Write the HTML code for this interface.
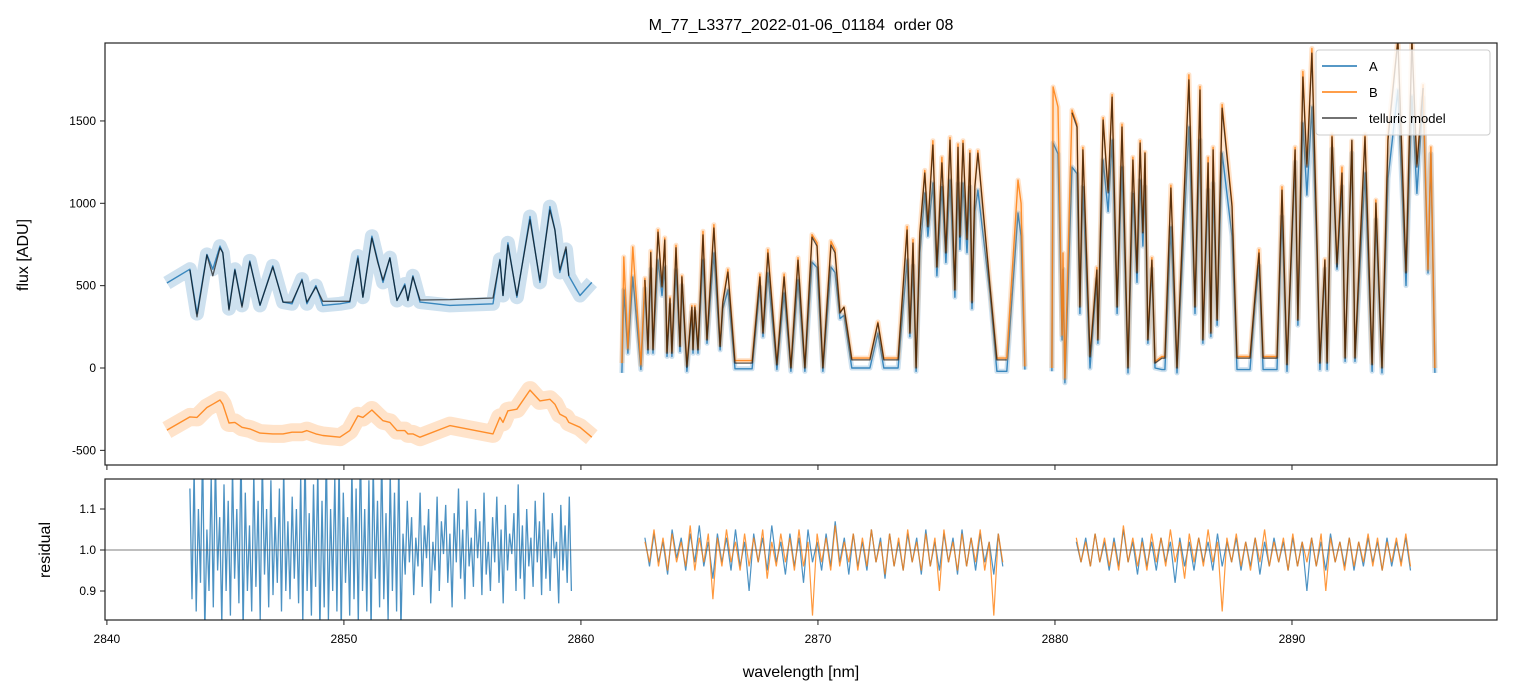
<!DOCTYPE html>
<html><head><meta charset="utf-8"><style>
body{margin:0;background:#fff;}
svg{display:block;font-family:"Liberation Sans","DejaVu Sans",sans-serif;}
</style></head><body>
<svg id="chart" width="1513" height="696" viewBox="0 0 1513 696">
<defs>
<clipPath id="cTop"><rect x="105" y="43" width="1392" height="422"/></clipPath>
<clipPath id="cBot"><rect x="105" y="479" width="1392" height="141"/></clipPath>
</defs>
<text x="801" y="30" text-anchor="middle" font-size="16" style="white-space:pre">M_77_L3377_2022-01-06_01184  order 08</text>
<g id="gtop" clip-path="url(#cTop)"></g>
<g id="gbot" clip-path="url(#cBot)"></g>
<g id="gaxes"></g>
<text transform="translate(28,255) rotate(-90)" text-anchor="middle" font-size="16">flux [ADU]</text>
<text transform="translate(50,550) rotate(-90)" text-anchor="middle" font-size="16">residual</text>
<text x="801" y="677" text-anchor="middle" font-size="16">wavelength [nm]</text>
<g>
<rect x="1316" y="50" width="174" height="85" rx="3" fill="#fff" fill-opacity="0.8" stroke="#ccc"/>
<line x1="1322" y1="66" x2="1357" y2="66" stroke="#1f77b4" stroke-width="1.5"/>
<text x="1369" y="71" font-size="13">A</text>
<line x1="1322" y1="92" x2="1357" y2="92" stroke="#ff7f0e" stroke-width="1.5"/>
<text x="1369" y="97" font-size="13">B</text>
<line x1="1322" y1="118" x2="1357" y2="118" stroke="#444" stroke-width="1.5"/>
<text x="1369" y="123" font-size="13">telluric model</text>
</g>
</svg>
<script>
// segment 1
const s1Wl=[2842.53,2843.50,2843.80,2844.22,2844.47,2844.77,2844.89,2845.15,2845.40,2845.70,2846.03,2846.46,2847.00,2847.43,2847.81,2848.23,2848.44,2848.82,2849.11,2849.83,2850.25,2850.59,2850.80,2851.18,2851.43,2851.65,2851.94,2852.24,2852.57,2852.70,2852.91,2853.21,2854.47,2856.29,2856.58,2856.71,2856.92,2857.30,2857.85,2858.27,2858.69,2858.90,2859.11,2859.37,2859.49,2859.96,2860.46];
const s1Model=[null,595,310,686,560,729,700,352,595,370,644,382,613,400,400,534,400,492,405,405,405,668,430,789,640,534,668,410,500,410,553,413,415,425,656,440,747,440,899,534,959,838,595,735,560,null,null];
const s1A=[516,600,330,690,600,740,700,360,600,380,650,380,620,400,390,540,390,500,380,390,400,680,430,800,650,520,670,410,510,410,560,400,380,390,660,440,760,430,920,520,980,840,580,720,560,440,520];
const s1B=[-377,-297,-300,-240,-220,-194,-220,-334,-330,-360,-370,-395,-400,-400,-390,-390,-380,-400,-410,-420,-380,-290,-300,-255,-290,-320,-330,-380,-380,-400,-400,-420,-350,-400,-300,-330,-260,-250,-134,-200,-190,-220,-280,-300,-330,-360,-420];
// segment 2
const s2Wl=[2861.73,2861.81,2861.98,2862.19,2862.53,2862.70,2862.83,2862.95,2863.04,2863.25,2863.42,2863.54,2863.63,2863.76,2863.84,2864.01,2864.18,2864.26,2864.47,2864.68,2864.73,2864.81,2864.94,2865.15,2865.32,2865.61,2865.87,2865.99,2866.20,2866.50,2867.22,2867.55,2867.68,2867.89,2868.27,2868.57,2868.86,2869.16,2869.45,2869.75,2869.96,2870.21,2870.55,2870.72,2870.93,2871.10,2871.43,2872.19,2872.53,2872.78,2873.38,2873.76,2873.88,2874.01,2874.14,2874.30,2874.51,2874.64,2874.85,2875.02,2875.23,2875.40,2875.57,2875.78,2875.91,2875.99,2876.12,2876.29,2876.41,2876.50,2876.62,2876.75,2877.26,2877.55,2877.97,2878.44,2878.57,2878.73];
const s2Model=[null,null,null,null,null,535,110,700,110,825,492,777,90,420,90,730,130,553,5,370,110,370,110,808,170,850,130,400,583,30,30,553,212,698,18,553,0,655,0,795,740,0,747,700,334,370,49,49,273,49,49,838,212,759,0,820,1184,857,1354,613,1245,698,1384,474,1340,795,1364,780,1305,395,1100,1305,492,49,49,null,null,null];
const s2A=[-30,474,90,553,-10,480,90,600,90,655,440,613,70,380,70,595,100,500,-20,340,90,340,90,655,150,698,110,360,474,-5,-5,490,190,577,-10,455,-20,535,-20,643,610,-20,613,580,300,320,0,0,212,0,0,655,190,620,-20,700,1063,800,1123,560,1100,640,1141,430,1120,720,1123,700,1100,360,950,1080,450,-20,-20,941,800,-10];
const s2B=[30,674,120,735,20,545,120,710,120,840,500,790,100,430,100,745,140,560,20,380,120,380,120,830,180,870,140,410,600,45,45,570,220,720,30,570,10,670,10,810,760,10,770,720,340,370,60,60,280,60,60,860,220,780,10,830,1200,870,1380,620,1280,710,1400,480,1360,810,1380,790,1320,410,1110,1320,500,60,60,1141,1000,10];
// segment 3
const s3Wl=[2879.87,2879.92,2880.13,2880.30,2880.34,2880.42,2880.72,2880.93,2881.05,2881.18,2881.48,2881.77,2881.81,2882.03,2882.24,2882.41,2882.62,2882.83,2883.08,2883.29,2883.46,2883.59,2883.71,2883.80,2883.92,2884.09,2884.22,2884.51,2884.64,2884.89,2885.15,2885.65,2885.91,2886.12,2886.24,2886.46,2886.58,2886.67,2886.84,2887.05,2887.47,2887.68,2888.23,2888.44,2888.61,2888.78,2889.37,2889.58,2889.79,2890.13,2890.25,2890.46,2890.63,2890.84,2891.05,2891.18,2891.39,2891.48,2891.69,2891.90,2892.11,2892.24,2892.53,2892.66,2893.08,2893.38,2893.54,2893.80,2894.05,2894.47,2894.81,2895.06,2895.27,2895.53,2895.74,2895.86,2896.03];
const s3Model=[null,null,null,null,null,null,1550,1463,370,1324,67,595,170,1506,1063,1645,370,1463,0,1263,577,1366,820,1305,170,655,30,60,60,1093,0,1749,370,1688,170,1245,212,1324,290,1578,980,60,60,431,698,60,60,1080,20,1324,290,1767,1220,1912,777,30,655,30,1403,613,1184,60,1384,60,1403,20,1002,0,1384,1990,577,1990,1220,1700,null,null,null];
const s3A=[-20,1366,1300,170,600,-90,1220,1180,330,1100,0,540,150,1263,950,1384,330,1220,-30,1060,520,1140,740,1100,150,600,0,-10,-10,857,-30,1463,330,1384,150,1080,190,1120,260,1305,800,-10,-10,380,620,-10,-10,920,-20,1250,260,1488,1050,1585,700,-10,600,-10,1330,600,1100,40,1305,40,1184,-20,900,-30,1150,1688,500,1650,1060,1640,577,1300,-30];
const s3B=[0,1706,1585,200,698,-60,1566,1480,380,1340,80,610,180,1520,1080,1660,380,1480,10,1280,590,1380,830,1310,180,670,40,70,70,1110,10,1780,380,1710,180,1280,220,1340,300,1600,1000,70,70,440,720,70,70,1100,30,1340,300,1800,1240,1940,800,40,660,40,1420,640,1220,70,1380,70,1420,30,1020,10,1420,2000,590,2000,1240,1720,600,1342,0];
// residuals
const r1Range=[2843.5,2859.6];
const r1A=[1.15,0.88,1.2,0.85,1.1,0.92,1.25,0.8,1.05,0.9,1.18,0.86,1.22,0.95,1.08,0.82,1.16,0.9,1.12,0.84,1.2,0.93,1.1,0.87,1.25,0.8,1.14,0.9,1.06,0.85,1.19,0.91,1.12,0.83,1.22,0.94,1.1,0.86,1.17,0.89,1.08,0.92,1.15,0.85,1.2,0.9,1.07,0.88,1.13,0.93,1.1,0.87,1.18,0.82,1.24,0.9,1.09,0.84,1.16,0.91,1.2,0.8,1.12,0.86,1.25,0.83,1.1,0.9,1.18,0.85,1.22,0.8,1.14,0.92,1.08,0.84,1.2,0.88,1.15,0.82,1.26,0.9,1.1,0.85,1.17,0.8,1.21,0.93,1.12,0.86,1.24,0.88,1.09,0.83,1.19,0.9,1.14,0.85,1.22,0.8,
1.04,0.94,1.12,0.97,1.08,0.89,1.03,0.96,1.14,0.91,1.06,0.98,1.1,0.87,1.02,0.95,1.13,0.9,1.07,0.99,1.11,0.92,1.04,0.86,1.09,0.97,1.15,0.93,1.05,0.88,1.12,0.96,1.03,0.91,1.1,0.98,1.07,0.89,1.14,0.94,1.02,0.9,1.08,0.97,1.13,0.92,1.05,0.87,1.11,0.95,1.04,0.99,1.09,0.9,1.16,0.93,1.06,0.88,1.1,0.96,1.03,0.91,1.12,0.97,1.07,0.89,1.14,0.93,1.05,0.9,1.09,0.98,1.02,0.87,1.11,0.95,1.06,0.92,1.13,0.9];
const r2Range=[2862.7,2877.8];
const r2A=[1.03,0.96,1.04,0.97,1.02,0.94,1.05,0.98,1.03,0.95,1.04,0.97,1.06,0.96,1.02,0.93,1.04,0.97,1.03,0.95,1.05,0.96,1.02,0.9,1.04,0.97,1.03,0.95,1.06,0.97,1.02,0.94,1.04,0.96,1.03,0.92,1.05,0.97,1.02,0.95,1.04,0.96,1.07,0.97,1.03,0.94,1.04,0.96,1.02,0.95,1.05,0.97,1.03,0.93,1.04,0.96,1.02,0.95,1.04,0.97,1.03,0.94,1.05,0.96,1.02,0.95,1.04,0.97,1.03,0.94,1.05,0.96,1.03,0.95,1.04,0.97,1.02,0.94,1.04,0.96];
const r2B=[1.02,0.97,1.05,0.96,1.03,0.95,1.04,0.97,1.02,0.96,1.06,0.95,1.03,0.97,1.04,0.88,1.03,0.96,1.05,0.97,1.02,0.95,1.04,0.96,1.03,0.97,1.05,0.93,1.02,0.96,1.04,0.97,1.03,0.95,1.05,0.96,1.02,0.84,1.04,0.97,1.03,0.95,1.06,0.96,1.02,0.97,1.04,0.95,1.03,0.96,1.05,0.97,1.02,0.94,1.04,0.96,1.03,0.95,1.05,0.97,1.02,0.95,1.04,0.96,1.03,0.9,1.05,0.97,1.02,0.95,1.04,0.96,1.03,0.97,1.05,0.95,1.02,0.84,1.04,0.97];
const r3Range=[2880.9,2895.0];
const r3A=[1.02,0.97,1.03,0.96,1.04,0.97,1.02,0.95,1.03,0.96,1.05,0.97,1.02,0.94,1.03,0.96,1.02,0.95,1.03,0.97,1.02,0.92,1.03,0.96,1.02,0.95,1.03,0.97,1.02,0.95,1.04,0.96,1.02,0.97,1.03,0.95,1.02,0.96,1.03,0.94,1.02,0.96,1.03,0.97,1.02,0.95,1.03,0.96,1.02,0.9,1.03,0.96,1.02,0.95,1.04,0.97,1.02,0.96,1.03,0.95,1.02,0.96,1.03,0.97,1.02,0.95,1.03,0.96,1.02,0.97,1.03,0.95];
const r3B=[1.03,0.97,1.02,0.96,1.04,0.97,1.03,0.96,1.02,0.95,1.06,0.97,1.03,0.96,1.02,0.95,1.04,0.97,1.03,0.96,1.05,0.97,1.02,0.93,1.04,0.97,1.03,0.96,1.05,0.97,1.02,0.85,1.03,0.97,1.04,0.96,1.02,0.95,1.03,0.97,1.05,0.96,1.02,0.97,1.03,0.95,1.04,0.96,1.02,0.97,1.03,0.96,1.04,0.9,1.03,0.97,1.02,0.95,1.03,0.96,1.02,0.97,1.04,0.96,1.03,0.95,1.02,0.97,1.03,0.96,1.04,0.96];
const xTicks=[2840,2850,2860,2870,2880,2890];
const yTicks=[-500,0,500,1000,1500];
const rTicks=[0.9,1.0,1.1];

const NS='http://www.w3.org/2000/svg';
const X0=105,X1=1497,WMIN=2839.92,WMAX=2898.65;
const sx=w=>X0+(w-WMIN)/(WMAX-WMIN)*(X1-X0);
const sy=v=>368-v*0.1647;
const ry=r=>550-(r-1)*410;
const gTop=document.getElementById('gtop'),gBot=document.getElementById('gbot'),gAxes=document.getElementById('gaxes');
function mk(tag,attrs,parent){const e=document.createElementNS(NS,tag);for(const k in attrs)e.setAttribute(k,attrs[k]);parent.appendChild(e);return e;}
function pathFrom(wl,vals,fy){let d='',pen=false;for(let i=0;i<wl.length;i++){const v=vals[i];if(v===null||v===undefined){pen=false;continue;}d+=(pen?'L':'M')+sx(wl[i]).toFixed(1)+','+fy(v).toFixed(1);pen=true;}return d;}
function series(wl,vals,color,halo,name,op){
  const h=mk('path',{d:pathFrom(wl,vals,sy),fill:'none',stroke:color,'stroke-width':halo,'stroke-opacity':0.22,'stroke-linejoin':'round'},gTop);
  
  
  const p=mk('path',{d:pathFrom(wl,vals,sy),fill:'none',stroke:color,'stroke-width':1.4,'stroke-opacity':op,'stroke-linejoin':'round'},gTop);
  
  
}
series(s1Wl,s1A,'#1f77b4',14,'series-a-seg1',0.85);
series(s1Wl,s1B,'#ff7f0e',18,'series-b-seg1',0.85);
series(s2Wl,s2A,'#1f77b4',5,'series-a-seg2',0.85);
series(s2Wl,s2B,'#ff7f0e',5,'series-b-seg2',0.85);
series(s3Wl,s3A,'#1f77b4',5,'series-a-seg3',0.85);
series(s3Wl,s3B,'#ff7f0e',5,'series-b-seg3',0.85);
[[s1Wl,s1Model],[s2Wl,s2Model],[s3Wl,s3Model]].forEach((s,i)=>{
  const p=mk('path',{d:pathFrom(s[0],s[1],sy),fill:'none',stroke:'#000','stroke-width':1.3,'stroke-opacity':0.65,'stroke-linejoin':'round'},gTop);
  
  
});
function resid(range,vals,color,name,w){
  const wl=vals.map((_,i)=>range[0]+(range[1]-range[0])*i/(vals.length-1));
  const p=mk('path',{d:pathFrom(wl,vals,ry),fill:'none',stroke:color,'stroke-width':w,'stroke-opacity':0.8},gBot);
  
  
}
resid(r1Range,r1A,'#1f77b4','residual-a-seg1',1.3);
resid(r2Range,r2A,'#1f77b4','residual-a-seg2',1.2);
resid(r2Range,r2B,'#ff7f0e','residual-b-seg2',1.2);
resid(r3Range,r3A,'#1f77b4','residual-a-seg3',1.2);
resid(r3Range,r3B,'#ff7f0e','residual-b-seg3',1.2);
const ref=mk('line',{x1:X0,x2:X1,y1:ry(1),y2:ry(1),stroke:'#555','stroke-width':0.7},gBot);


const f1=mk('rect',{x:X0,y:43,width:X1-X0,height:422,fill:'none',stroke:'#222','stroke-width':1.2},gAxes);


const f2=mk('rect',{x:X0,y:479,width:X1-X0,height:141,fill:'none',stroke:'#222','stroke-width':1.2},gAxes);


xTicks.forEach(t=>{
  const x=sx(t);
  const a=mk('line',{x1:x,x2:x,y1:465,y2:470,stroke:'#222'},gAxes);
  
  
  const b=mk('line',{x1:x,x2:x,y1:620,y2:625,stroke:'#222'},gAxes);
  
  
  const l=mk('text',{x:x,y:643,'text-anchor':'middle','font-size':12},gAxes);
  l.textContent=t;
  
  
});
yTicks.forEach(t=>{
  const y=sy(t);
  const a=mk('line',{x1:X0-5,x2:X0,y1:y,y2:y,stroke:'#222'},gAxes);
  
  
  const l=mk('text',{x:X0-9,y:y+4,'text-anchor':'end','font-size':12},gAxes);
  l.textContent=t;
  
  
});
rTicks.forEach(t=>{
  const y=ry(t);
  const a=mk('line',{x1:X0-5,x2:X0,y1:y,y2:y,stroke:'#222'},gAxes);
  
  
  const l=mk('text',{x:X0-9,y:y+4,'text-anchor':'end','font-size':12},gAxes);
  l.textContent=t.toFixed(1);
  
  
});
</script>
</body></html>
